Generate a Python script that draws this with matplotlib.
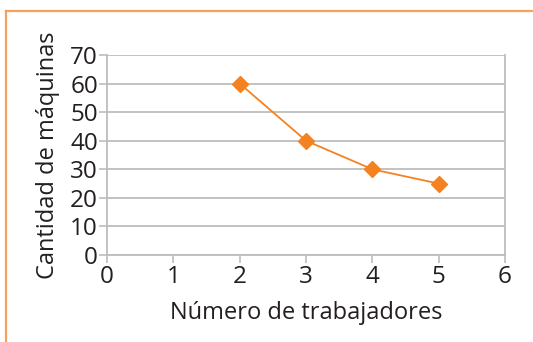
import matplotlib
matplotlib.use("Agg")
import matplotlib.pyplot as plt
from matplotlib.lines import Line2D

# Datos: máquinas según número de trabajadores
trabajadores = [2, 3, 4, 5]
maquinas = [60, 40, 30, 25]
x_ticks = [0, 1, 2, 3, 4, 5, 6]
y_ticks = [0, 10, 20, 30, 40, 50, 60, 70]

ORANGE = "#F58220"
FRAME = "#F9A15A"
GRID = "#BDBDBD"
TEXT = "#231F20"

plt.rcParams['font.family'] = ['Open Sans', 'DejaVu Sans']

fig = plt.figure(figsize=(5.33, 3.42), dpi=100)
ax = fig.add_axes([107 / 533, 1 - 255 / 342, 398 / 533, 200 / 342])

ax.plot(trabajadores, maquinas, color=ORANGE, linewidth=1.3,
        marker='D', markersize=8, markerfacecolor=ORANGE,
        markeredgecolor=ORANGE, zorder=3)

ax.set_xlim(0, 6)
ax.set_ylim(0, 70)
ax.set_xticks(x_ticks)
ax.set_yticks(y_ticks)
ax.tick_params(axis='both', labelsize=17.5, colors=GRID, labelcolor=TEXT,
               length=5.5, width=1.2)
ax.tick_params(axis='x', pad=2)
ax.tick_params(axis='y', pad=1)

ax.yaxis.grid(True, color=GRID, linewidth=1.3)
ax.set_axisbelow(True)
for side in ['left', 'right', 'bottom']:
    ax.spines[side].set_color(GRID)
    ax.spines[side].set_linewidth(1.3)
ax.spines['top'].set_visible(False)

ax.set_xlabel("Número de trabajadores", fontsize=17, color=TEXT, labelpad=8)
ax.set_ylabel("Cantidad de máquinas", fontsize=17, color=TEXT, labelpad=7)

# Marco naranja superior e izquierdo
fig.add_artist(Line2D([6 / 533, 1], [1 - 11 / 342, 1 - 11 / 342],
                      transform=fig.transFigure, color=FRAME, linewidth=1.6))
fig.add_artist(Line2D([6 / 533, 6 / 533], [0, 1 - 11 / 342],
                      transform=fig.transFigure, color=FRAME, linewidth=1.6))

fig.savefig("out.png", dpi=100)
